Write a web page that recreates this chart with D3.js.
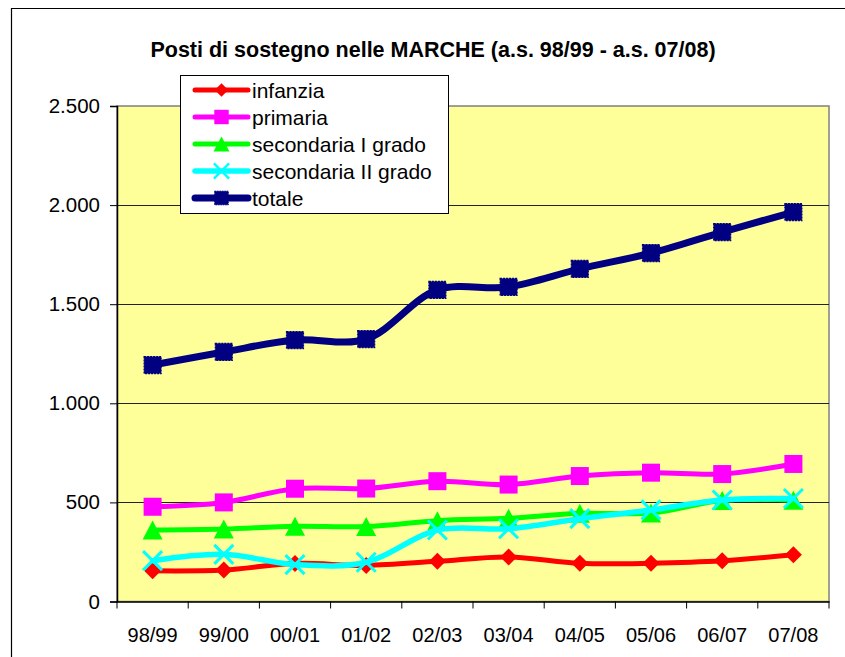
<!DOCTYPE html>
<html>
<head>
<meta charset="utf-8">
<script src="https://cdn.jsdelivr.net/npm/d3@7"></script>
<style>
  html, body { margin: 0; padding: 0; background: #fff; }
  svg { display: block; font-family: "Liberation Sans", Arial, sans-serif; }
</style>
</head>
<body>
<svg id="chart" width="845" height="657"></svg>
<script>
const categories = ["98/99","99/00","00/01","01/02","02/03","03/04","04/05","05/06","06/07","07/08"];
const infanzia    = [155, 159, 192, 182, 203, 225, 193, 193, 205, 236];
const primaria    = [478, 500, 569, 570, 607, 590, 633, 650, 643, 694];
const secondariaI = [361, 366, 380, 378, 408, 420, 445, 446, 510, 511];
const secondariaII= [206, 238, 186, 198, 361, 367, 418, 462, 512, 520];
const totale      = [1193, 1259, 1319, 1324, 1572, 1587, 1678, 1758, 1864, 1965];
const yTicks = [0, 500, 1000, 1500, 2000, 2500];
const title = "Posti di sostegno nelle MARCHE (a.s. 98/99 - a.s. 07/08)";

const series = [
  {name: "infanzia", values: infanzia, color: "#FF0000", marker: "diamond", width: 5},
  {name: "primaria", values: primaria, color: "#FF00FF", marker: "square", width: 5},
  {name: "secondaria I grado", values: secondariaI, color: "#00FF00", marker: "triangle", width: 5},
  {name: "secondaria II grado", values: secondariaII, color: "#00FFFF", marker: "x", width: 5.5},
  {name: "totale", values: totale, color: "#000080", marker: "navysquare", width: 7}
];

const svg = d3.select("#chart");
const plot = {left: 117, right: 829, top: 106, bottom: 601.5};

// outer frame
svg.append("path").attr("d", `M11.5,657 L11.5,8.5 L845,8.5`)
  .attr("fill", "none").attr("stroke", "#000").attr("stroke-width", 1.2);

const x = d3.scaleBand().domain(categories).range([plot.left, plot.right]);
const y = d3.scaleLinear().domain([0, 2500]).range([plot.bottom, plot.top]);

// plot background
svg.append("rect").attr("x", plot.left).attr("y", plot.top)
  .attr("width", plot.right - plot.left).attr("height", plot.bottom - plot.top)
  .attr("fill", "#FFFF99").attr("stroke", "#808080").attr("stroke-width", 1.5);

// gridlines
svg.append("g").selectAll("line").data(yTicks.filter(d => d > 0 && d < 2500)).join("line")
  .attr("x1", plot.left).attr("x2", plot.right)
  .attr("y1", d => Math.round(y(d)) + 0.5).attr("y2", d => Math.round(y(d)) + 0.5)
  .attr("stroke", "#222").attr("stroke-width", 1);

// y axis
const yAxis = d3.axisLeft(y).tickValues(yTicks).tickSize(7).tickPadding(10)
  .tickFormat(d => d3.format(",")(d).replace(/,/g, "."));
const gy = svg.append("g").attr("transform", `translate(${plot.left},0)`).call(yAxis);
gy.select(".domain").attr("stroke", "#000").attr("stroke-width", 1.5);
gy.selectAll(".tick line").attr("stroke", "#000");
gy.selectAll("text").attr("font-size", 20.5).attr("fill", "#000")
  .attr("font-family", "'Liberation Sans', Arial, sans-serif");

// x axis
const xAxis = d3.axisBottom(x).tickSize(0).tickPadding(26);
const gx = svg.append("g").attr("transform", `translate(0,${plot.bottom})`).call(xAxis);
gx.select(".domain").attr("stroke", "#000").attr("stroke-width", 1.5);
gx.selectAll("text").attr("font-size", 20).attr("fill", "#000")
  .attr("font-family", "'Liberation Sans', Arial, sans-serif");
// category boundary ticks
const bounds = categories.map(c => x(c)).concat([x(categories[categories.length - 1]) + x.bandwidth()]);
svg.append("g").selectAll("line").data(bounds).join("line")
  .attr("x1", d => d).attr("x2", d => d)
  .attr("y1", plot.bottom).attr("y2", plot.bottom + 7)
  .attr("stroke", "#000").attr("stroke-width", 1);

// title
svg.append("text").attr("x", 433).attr("y", 57).attr("text-anchor", "middle")
  .attr("font-size", 21.5).attr("font-weight", "bold").attr("fill", "#000").text(title);

function drawMarker(g, type, color, cx, cy) {
  if (type === "diamond") {
    const s = 8.5;
    g.append("path").attr("d", `M${cx},${cy - s} L${cx + s},${cy} L${cx},${cy + s} L${cx - s},${cy} Z`).attr("fill", color);
  } else if (type === "square") {
    const s = 9;
    g.append("rect").attr("x", cx - s).attr("y", cy - s).attr("width", 2 * s).attr("height", 2 * s).attr("fill", color);
  } else if (type === "navysquare") {
    const s = 8.5;
    g.append("rect").attr("x", cx - s).attr("y", cy - s).attr("width", 2 * s).attr("height", 2 * s)
      .attr("fill", color).attr("stroke", color).attr("stroke-width", 1.2).attr("stroke-dasharray", "2,1");
  } else if (type === "triangle") {
    const w = 10, h = 9.5;
    g.append("path").attr("d", `M${cx},${cy - h} L${cx + w},${cy + h} L${cx - w},${cy + h} Z`).attr("fill", color);
  } else if (type === "x") {
    const s = 9.5;
    g.append("path").attr("d", `M${cx - s},${cy - s} L${cx + s},${cy + s} M${cx - s},${cy + s} L${cx + s},${cy - s}`)
      .attr("stroke", color).attr("stroke-width", 3).attr("fill", "none");
  }
}

const line = d3.line()
  .x((d, i) => x(categories[i]) + x.bandwidth() / 2)
  .y(d => y(d))
  .curve(d3.curveCatmullRom.alpha(0.5));

series.forEach(s => {
  const g = svg.append("g");
  g.append("path").attr("d", line(s.values)).attr("fill", "none")
    .attr("stroke", s.color).attr("stroke-width", s.width).attr("stroke-linejoin", "round").attr("stroke-linecap", "round");
  s.values.forEach((v, i) => drawMarker(g, s.marker, s.color, x(categories[i]) + x.bandwidth() / 2, y(v)));
});

// legend
const lg = svg.append("g");
lg.append("rect").attr("x", 180.5).attr("y", 75.5).attr("width", 268).attr("height", 138)
  .attr("fill", "#fff").attr("stroke", "#000").attr("stroke-width", 1);
series.forEach((s, i) => {
  const cy = 90 + i * 27;
  const row = lg.append("g");
  row.append("line").attr("x1", 195).attr("x2", 248).attr("y1", cy).attr("y2", cy)
    .attr("stroke", s.color).attr("stroke-width", s.width).attr("stroke-linecap", "round");
  const mg = row.append("g").attr("transform", `translate(221.5,${cy}) scale(0.8) translate(-221.5,${-cy})`);
  drawMarker(mg, s.marker, s.color, 221.5, cy);
  row.append("text").attr("x", 252).attr("y", cy + 7.5).attr("font-size", 21).attr("fill", "#000").text(s.name);
});
</script>
</body>
</html>
